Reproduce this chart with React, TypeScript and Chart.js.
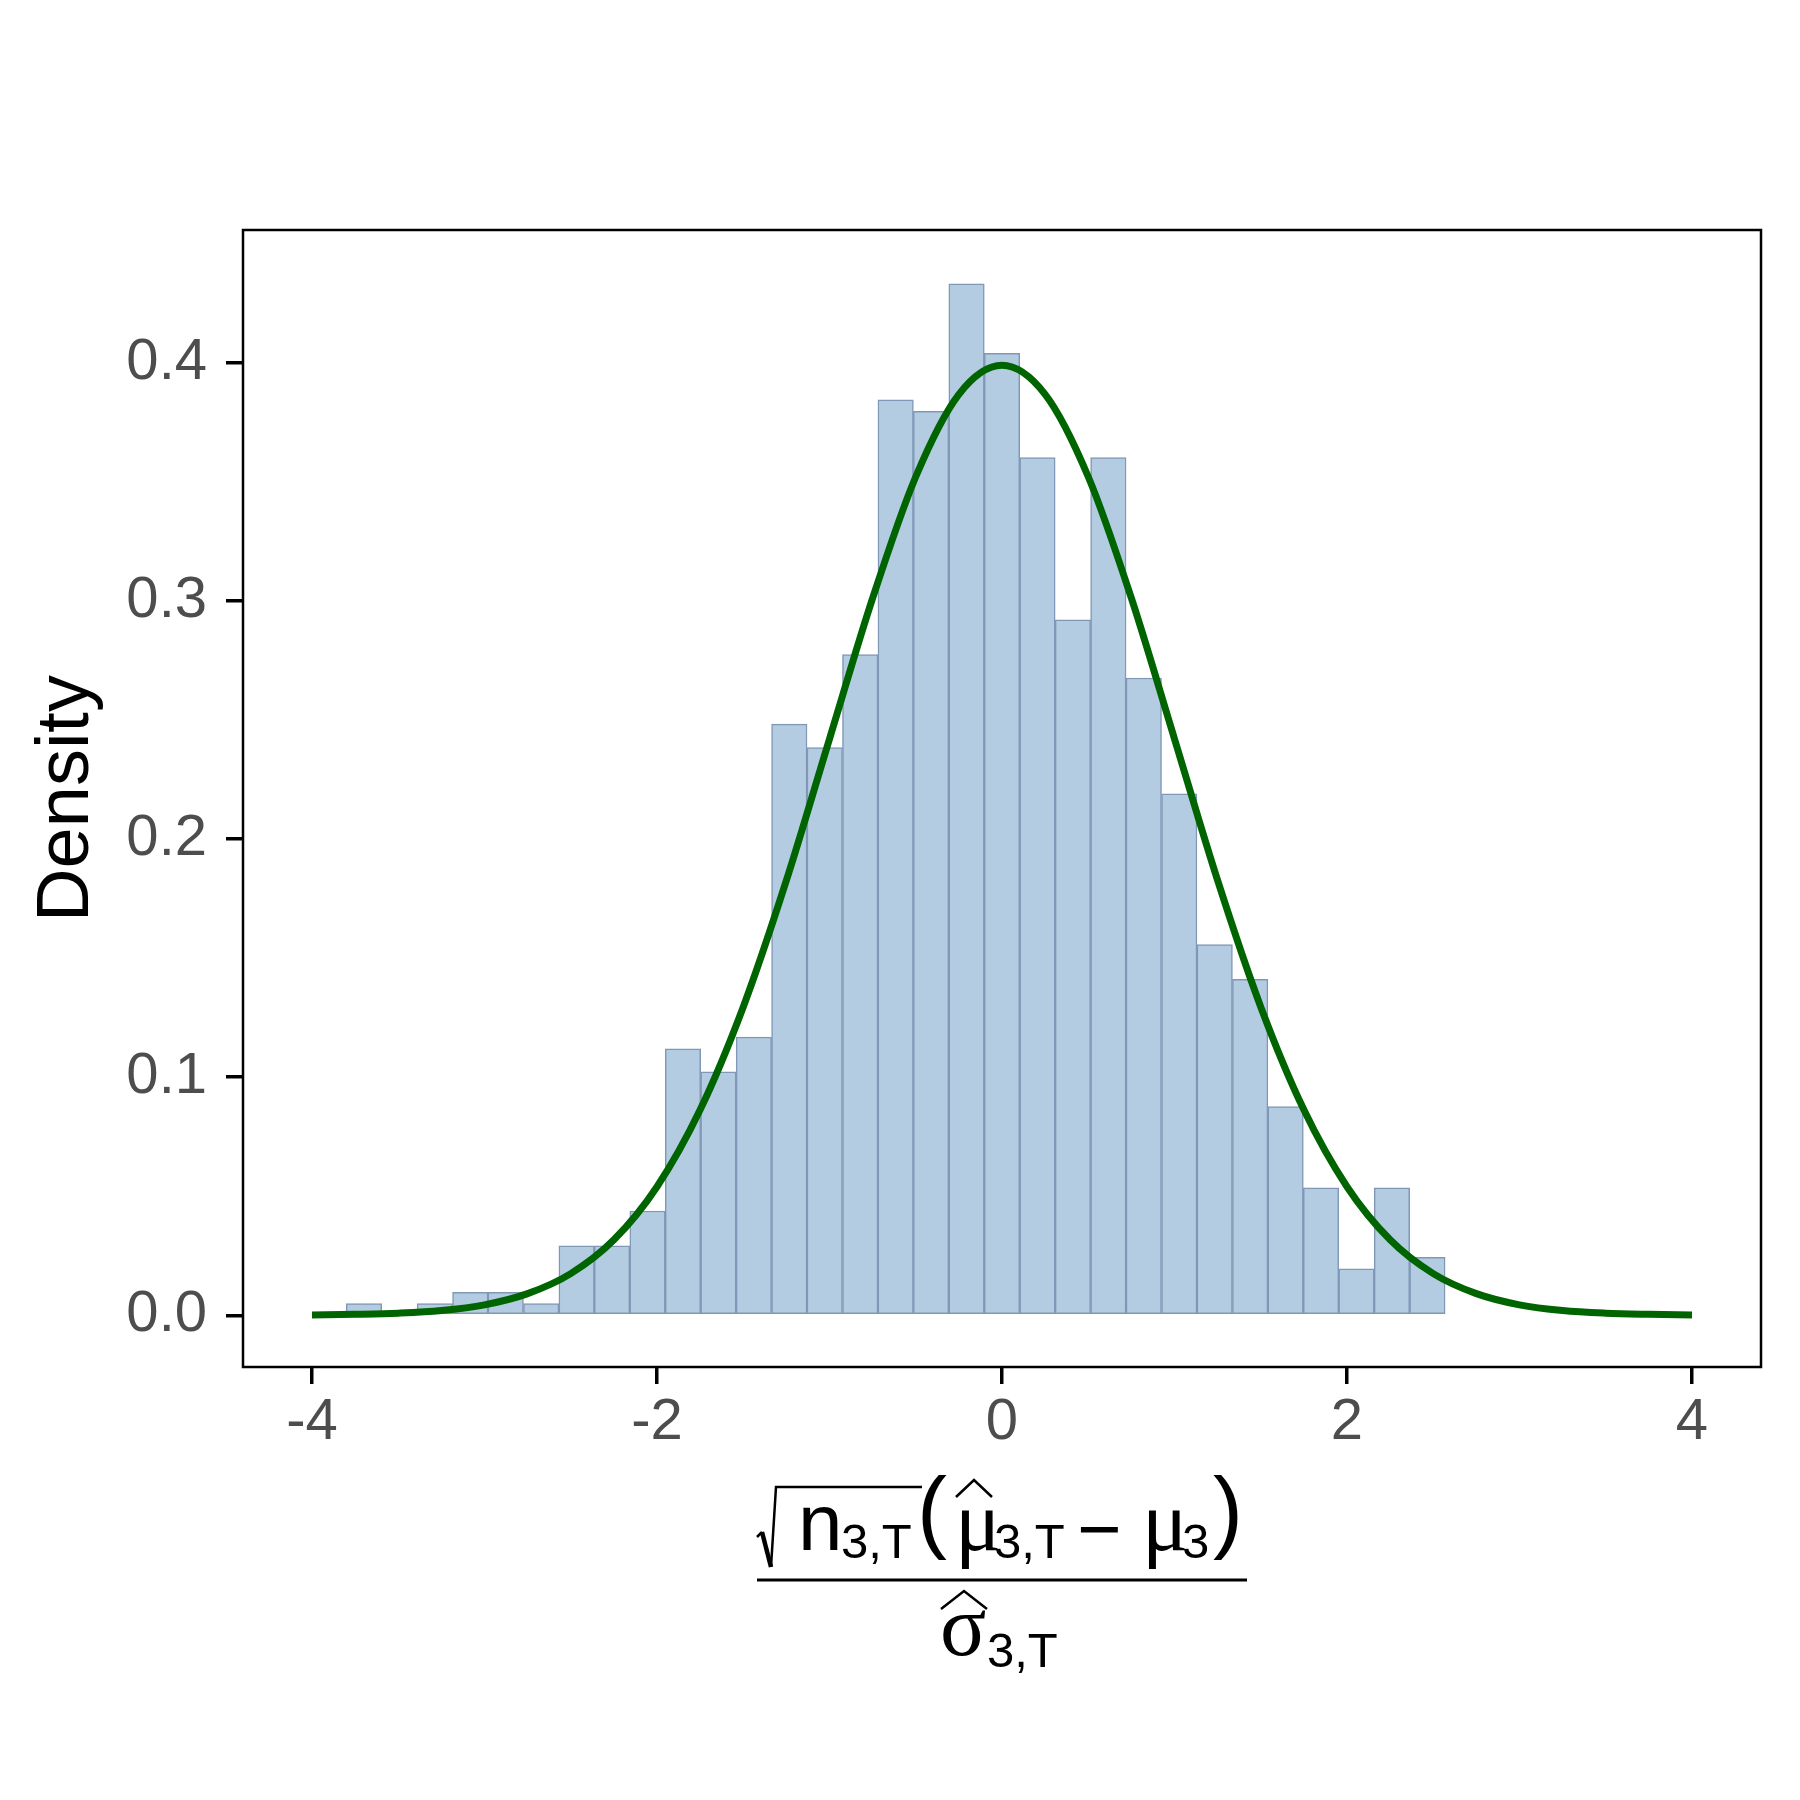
import React, { useRef, useEffect } from 'react';
import Chart from 'chart.js/auto';

// histogram bins (centres) and densities
const binCenters = [
  -3.699, -3.4935, -3.288, -3.0825, -2.877, -2.6715, -2.466, -2.2605, -2.055, -1.8495,
  -1.644, -1.4385, -1.233, -1.0275, -0.822, -0.6165, -0.411, -0.2055, 0, 0.2055,
  0.411, 0.6165, 0.822, 1.0275, 1.233, 1.4385, 1.644, 1.8495, 2.055, 2.2605, 2.466,
];
const binDensity = [
  0.0049, 0, 0.0049, 0.0097, 0.0097, 0.0049, 0.0292, 0.0292, 0.0438, 0.1119,
  0.1022, 0.1168, 0.2482, 0.2384, 0.2774, 0.3844, 0.3796, 0.4331, 0.4039, 0.3601,
  0.292, 0.3601, 0.2676, 0.219, 0.1557, 0.1411, 0.0876, 0.0535, 0.0195, 0.0535, 0.0243,
];

// reference normal curve
const curveX = [
  -4, -3.75, -3.5, -3.25, -3, -2.75, -2.5, -2.25, -2, -1.75, -1.5, -1.25, -1, -0.75, -0.5, -0.25,
  0, 0.25, 0.5, 0.75, 1, 1.25, 1.5, 1.75, 2, 2.25, 2.5, 2.75, 3, 3.25, 3.5, 3.75, 4,
];
const curveY = [
  0.0001, 0.0004, 0.0009, 0.002, 0.0044, 0.0091, 0.0175, 0.0317, 0.054, 0.0863, 0.1295, 0.1826,
  0.242, 0.3011, 0.3521, 0.3867, 0.3989, 0.3867, 0.3521, 0.3011, 0.242, 0.1826, 0.1295, 0.0863,
  0.054, 0.0317, 0.0175, 0.0091, 0.0044, 0.002, 0.0009, 0.0004, 0.0001,
];

const xTicks = [-4, -2, 0, 2, 4];
const yTicks = [0, 0.1, 0.2, 0.3, 0.4];

const SANS = '"Liberation Sans", Arial, Helvetica, sans-serif';
const SERIF = '"Liberation Serif", "Times New Roman", serif';

const panelAndTitles = {
  id: 'panelAndTitles',
  afterDraw(chart: any) {
    const { ctx, chartArea } = chart;
    const { left, right, top, bottom } = chartArea;
    ctx.save();

    // panel border
    ctx.strokeStyle = '#000';
    ctx.lineWidth = 2.5;
    ctx.strokeRect(left, top, right - left, bottom - top);

    // y title
    ctx.fillStyle = '#000';
    ctx.font = `74px ${SANS}`;
    ctx.textAlign = 'center';
    ctx.textBaseline = 'alphabetic';
    ctx.save();
    ctx.translate(87.5, (top + bottom) / 2);
    ctx.rotate(-Math.PI / 2);
    ctx.fillText('Density', 0, 0);
    ctx.restore();

    // x title: sqrt(n_{3,T}) (hat mu_{3,T} - mu_3) / hat sigma_{3,T}
    const cx = (left + right) / 2;
    const b = bottom;
    ctx.textAlign = 'left';
    ctx.lineJoin = 'miter';
    const put = (t: string, dx: number, dy: number, font: string) => {
      ctx.font = font;
      ctx.fillText(t, cx + dx, b + dy);
    };
    const path = (pts: number[][], w: number) => {
      ctx.lineWidth = w;
      ctx.beginPath();
      pts.forEach(([dx, dy], i) => (i ? ctx.lineTo(cx + dx, b + dy) : ctx.moveTo(cx + dx, b + dy)));
      ctx.stroke();
    };

    path([[-245, 170], [-240, 165]], 2.5);
    path([[-240, 165], [-231, 200]], 4.5);
    path([[-231, 200], [-226, 120], [-80, 120]], 2.5);
    put('n', -204, 183, `80px ${SANS}`);
    put('3,T', -161, 191, `49px ${SANS}`);
    put('(', -85, 174, `90px ${SANS}`);
    put('μ', -47, 183, `86px ${SERIF}`);
    path([[-46, 130], [-28, 113], [-10, 130]], 2.5);
    put('3,T', -8, 191, `49px ${SANS}`);
    put('−', 75, 188, `76px ${SANS}`);
    put('μ', 140, 183, `86px ${SERIF}`);
    put('3', 180, 191, `49px ${SANS}`);
    put(')', 211, 174, `90px ${SANS}`);

    path([[-245, 213], [245, 213]], 3);

    put('σ', -62, 288, `86px ${SERIF}`);
    path([[-61, 242], [-38, 224], [-15, 242]], 2.5);
    put('3,T', -15, 300, `49px ${SANS}`);

    ctx.restore();
  },
};

const DensityHistogram: React.FC = () => {
  const canvasRef = useRef<HTMLCanvasElement | null>(null);

  useEffect(() => {
    if (!canvasRef.current) return;
    document.body.style.margin = '0';

    const tickFont = { family: SANS, size: 58 };
    const tickGrid = {
      display: true,
      drawOnChartArea: false,
      drawTicks: true,
      tickLength: 17,
      color: '#000',
      lineWidth: 3.5,
      offset: false,
    };

    const chart = new Chart(canvasRef.current, {
      type: 'bar',
      data: {
        datasets: [
          {
            type: 'line',
            data: curveX.map((x, i) => ({ x, y: curveY[i] })),
            borderColor: '#006400',
            borderWidth: 7,
            pointRadius: 0,
            fill: false,
            cubicInterpolationMode: 'monotone',
            order: 1,
          } as any,
          {
            type: 'bar',
            data: binCenters.map((x, i) => ({ x, y: binDensity[i] })),
            backgroundColor: 'rgb(180, 204, 226)',
            borderColor: 'rgb(128, 152, 182)',
            borderWidth: 1.5,
            borderSkipped: false,
            barPercentage: 1,
            categoryPercentage: 1,
            order: 2,
          },
        ],
      },
      options: {
        animation: false,
        responsive: false,
        devicePixelRatio: 1,
        layout: { padding: { left: 0, top: 230, right: 39, bottom: 0 } },
        plugins: { legend: { display: false }, tooltip: { enabled: false } },
        scales: {
          x: {
            type: 'linear',
            min: -4.4,
            max: 4.4,
            offset: false,
            grid: tickGrid,
            border: { display: false },
            ticks: {
              font: tickFont,
              color: '#4D4D4D',
              padding: 4,
              maxRotation: 0,
              callback: (v: any) => String(v),
            },
            afterBuildTicks: (scale: any) => {
              scale.ticks = xTicks.map((value) => ({ value }));
            },
            afterFit: (scale: any) => {
              scale.height = 433;
            },
          },
          y: {
            type: 'linear',
            min: -0.0217,
            max: 0.4557,
            grid: tickGrid,
            border: { display: false },
            ticks: {
              font: tickFont,
              color: '#4D4D4D',
              padding: 19,
              callback: (v: any) => Number(v).toFixed(1),
            },
            afterBuildTicks: (scale: any) => {
              scale.ticks = yTicks.map((value) => ({ value }));
            },
            afterFit: (scale: any) => {
              scale.width = 243;
            },
          },
        },
      },
      plugins: [panelAndTitles],
    });

    return () => {
      chart.destroy();
    };
  }, []);

  return <canvas ref={canvasRef} width={1800} height={1800} style={{ display: 'block', background: '#fff' }}></canvas>;
};

export default function App() {
  return <DensityHistogram />;
}
